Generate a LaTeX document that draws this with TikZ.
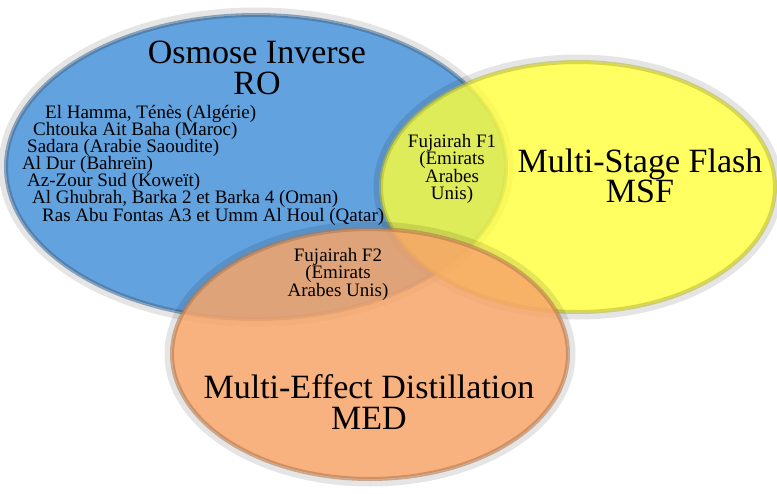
\documentclass[tikz,border=0pt]{standalone}
\usepackage{fontspec}
\setmainfont{Liberation Serif}
\usepackage{tikz}
\usetikzlibrary{positioning}
\definecolor{roblue}{RGB}{98,162,222}
\definecolor{msfyellow}{RGB}{255,255,58}
\definecolor{medorange}{RGB}{246,164,104}

\begin{document}
\begin{tikzpicture}[
  x=1pt, y=-1pt,
  halo/.style={line width=7pt, draw=black, draw opacity=0.10},
  zone/.style={line width=4pt, fill opacity=0.8, draw opacity=0.55},
  title/.style={font=\fontsize{34}{30.5}\selectfont, align=center},
  site/.style={font=\fontsize{19}{17.2}\selectfont, anchor=base west, inner sep=0pt},
  shared/.style={font=\fontsize{19}{17.5}\selectfont, align=center, inner sep=0pt}
]
\path[use as bounding box] (0,0) rectangle (777,493);

% the three processes
\draw[halo] (256,167) ellipse [x radius=254pt, y radius=156pt];
\filldraw[zone, fill=roblue, draw=roblue!65!black, fill opacity=1] (256,167) ellipse [x radius=250pt, y radius=152pt];
\draw[halo] (578,187) ellipse [x radius=201pt, y radius=129pt];
\filldraw[zone, fill=msfyellow, draw=msfyellow!72!black] (578,187) ellipse [x radius=197pt, y radius=125pt];
\draw[halo] (370,354) ellipse [x radius=202pt, y radius=129pt];
\filldraw[zone, fill=medorange, draw=medorange!72!black, fill opacity=0.85] (370,354) ellipse [x radius=198pt, y radius=125pt];

% RO
\node[title] (ro) at (257,68) {Osmose Inverse\\RO};
\node[site] (hamma) at (45,118) {El Hamma, Ténès (Algérie)};
\node[site] (chtouka) at (33,135) {Chtouka Ait Baha (Maroc)};
\node[site] (sadara) at (27,152) {Sadara (Arabie Saoudite)};
\node[site] (dur) at (22,169) {Al Dur (Bahreïn)};
\node[site] (zour) at (27,186) {Az-Zour Sud (Koweït)};
\node[site] (ghubrah) at (32,203) {Al Ghubrah, Barka 2 et Barka 4 (Oman)};
\node[site] (ras) at (42,221) {Ras Abu Fontas A3 et Umm Al Houl (Qatar)};

% MSF and MED
\node[title] (msf) at (640,176) {Multi-Stage Flash\\MSF};
\node[title] (med) at (369,402) {Multi-Effect Distillation\\MED};

% overlaps
\node[shared] (fone) at (452,169) {Fujairah F1\\(Emirats\\Arabes\\Unis)};
\node[shared] (ftwo) at (338,274) {Fujairah F2\\(Emirats\\Arabes Unis)};
\end{tikzpicture}
\end{document}
